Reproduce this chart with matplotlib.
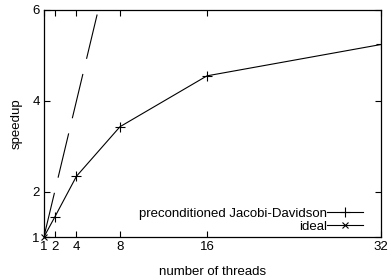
import numpy as np
import matplotlib
matplotlib.use("Agg")
import matplotlib.pyplot as plt
from matplotlib.lines import Line2D

plt.rcParams['font.family'] = ['Liberation Sans', 'DejaVu Sans']

threads = [1, 2, 4, 8, 16, 32]
speedup_jd = [1.0, 1.44, 2.34, 3.43, 4.55, 5.24]
ideal = [1, 2, 4, 8, 16, 32]

fig = plt.figure(figsize=(3.88, 2.77), dpi=100)
ax = fig.add_axes([0.113, 0.144, 0.869, 0.82])

ax.plot(threads, speedup_jd, color='black', lw=0.8, marker='+', ms=7, mew=0.8)
ax.plot(threads, ideal, color='black', lw=0.8, dashes=(41, 14))
ax.plot(threads[:1], ideal[:1], color='black', ls='none', marker='x', ms=5, mew=0.8, clip_on=False)

ax.set_xlim(1, 32)
ax.set_ylim(1, 6)
ax.set_xticks(threads)
ax.set_yticks([1, 2, 4, 6])
ax.tick_params(direction='in', top=True, right=True, labelsize=9.5, length=4, width=0.8, pad=3)
for s in ax.spines.values():
    s.set_linewidth(0.9)

ax.set_xlabel('number of threads', fontsize=9.5, labelpad=9)
ax.set_ylabel('speedup', fontsize=9.5, labelpad=7)

handles = [
    Line2D([], [], color='black', lw=0.8, marker='+', ms=7, mew=0.8),
    Line2D([], [], color='black', lw=0.8, marker='x', ms=5, mew=0.8),
]
ax.legend(handles, ['preconditioned Jacobi-Davidson', 'ideal'], loc='lower right',
          markerfirst=False, frameon=False, fontsize=9.5, handlelength=2.7,
          labelspacing=0.05, handletextpad=0.0, borderaxespad=0.0,
          bbox_to_anchor=(0.962, -0.005))

fig.savefig('out.png', dpi=100)
